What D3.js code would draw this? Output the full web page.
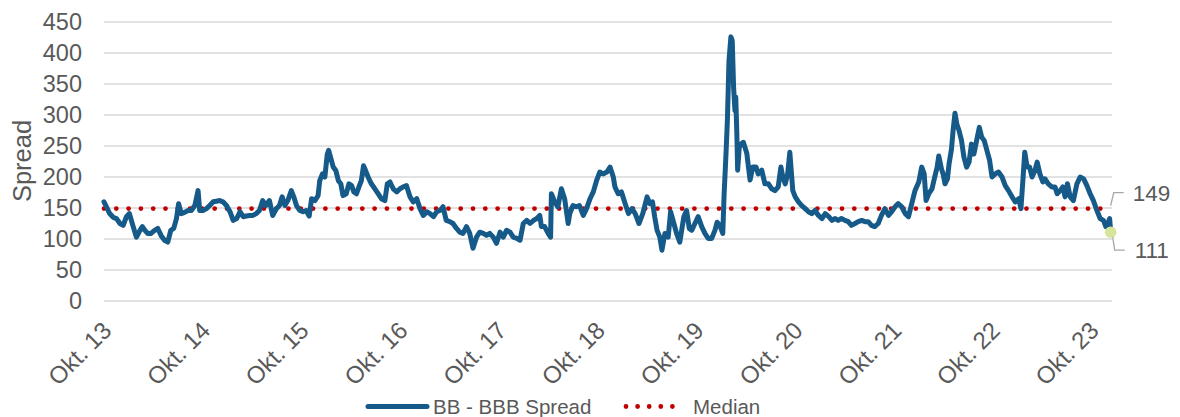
<!DOCTYPE html>
<html>
<head>
<meta charset="utf-8">
<script src="https://cdn.jsdelivr.net/npm/d3@7"></script>
<style>
  body { margin: 0; background: #fff; }
  text { font-family: "Liberation Sans", Arial, sans-serif; fill: #595959; }
</style>
</head>
<body>
<svg id="chart" width="1180" height="417"></svg>
<script>
// ---- data ----
const yTicks = [0, 50, 100, 150, 200, 250, 300, 350, 400, 450];
const xTickDates = ["2013-10-01", "2014-10-01", "2015-10-01", "2016-10-01", "2017-10-01",
                    "2018-10-01", "2019-10-01", "2020-10-01", "2021-10-01", "2022-10-01", "2023-10-01"];
const xTickLabels = ["Okt. 13", "Okt. 14", "Okt. 15", "Okt. 16", "Okt. 17", "Okt. 18",
                     "Okt. 19", "Okt. 20", "Okt. 21", "Okt. 22", "Okt. 23"];
const medianValue = 149;
const seriesNames = ["BB - BBB Spread", "Median"];

const spread2013 = [["2013-10-01",160],["2013-10-10",152],["2013-10-22",141],["2013-11-04",135],["2013-11-16",133],["2013-11-29",125],["2013-12-11",122],["2013-12-23",136]];
const spread2014 = [["2014-01-03",141],["2014-01-17",120],["2014-01-29",103],["2014-02-11",114],["2014-02-20",120],["2014-03-01",114],["2014-03-12",109],["2014-03-24",109],["2014-04-06",114],["2014-04-18",117],["2014-05-01",105],["2014-05-13",98],["2014-05-25",95],["2014-06-05",114],["2014-06-16",117],["2014-06-26",133],["2014-07-04",157],["2014-07-14",141],["2014-07-26",143],["2014-08-08",146],["2014-08-20",146],["2014-09-02",154],["2014-09-14",178],["2014-09-20",146],["2014-10-02",146],["2014-10-15",149],["2014-10-27",154],["2014-11-09",160],["2014-11-21",161],["2014-12-03",162],["2014-12-15",160],["2014-12-28",154]];
const spread2015 = [["2015-01-10",144],["2015-01-22",130],["2015-02-04",133],["2015-02-16",144],["2015-02-28",136],["2015-03-11",137],["2015-03-23",138],["2015-04-05",138],["2015-04-17",141],["2015-04-29",146],["2015-05-11",162],["2015-05-23",154],["2015-06-05",162],["2015-06-17",138],["2015-07-01",149],["2015-07-12",154],["2015-07-22",168],["2015-08-01",154],["2015-08-12",162],["2015-08-25",178],["2015-09-03",168],["2015-09-13",154],["2015-09-25",146],["2015-10-07",144],["2015-10-19",146],["2015-10-30",137],["2015-11-08",165],["2015-11-20",162],["2015-12-02",170],["2015-12-08",194],["2015-12-18",205],["2015-12-27",200]];
const spread2016 = [["2016-01-05",237],["2016-01-10",243],["2016-01-17",232],["2016-01-27",216],["2016-02-06",210],["2016-02-15",194],["2016-02-24",189],["2016-03-03",170],["2016-03-15",173],["2016-03-25",189],["2016-04-04",186],["2016-04-12",176],["2016-04-22",173],["2016-05-01",184],["2016-05-10",194],["2016-05-18",218],["2016-05-26",210],["2016-06-04",200],["2016-06-16",189],["2016-06-29",181],["2016-07-11",173],["2016-07-23",165],["2016-08-05",162],["2016-08-14",189],["2016-08-24",192],["2016-09-05",181],["2016-09-18",176],["2016-09-30",181],["2016-10-12",184],["2016-10-24",186],["2016-11-06",168],["2016-11-18",160],["2016-12-01",165],["2016-12-13",149],["2016-12-25",138]];
const spread2017 = [["2017-01-07",144],["2017-01-19",141],["2017-02-01",136],["2017-02-13",144],["2017-02-25",146],["2017-03-08",152],["2017-03-20",130],["2017-04-02",128],["2017-04-14",125],["2017-04-27",117],["2017-05-09",111],["2017-05-21",109],["2017-06-03",120],["2017-06-15",109],["2017-06-27",85],["2017-07-10",103],["2017-07-22",111],["2017-08-04",109],["2017-08-16",106],["2017-08-28",109],["2017-09-10",103],["2017-09-22",93],["2017-10-05",111],["2017-10-17",103],["2017-10-29",114],["2017-11-11",111],["2017-11-23",103],["2017-12-06",101],["2017-12-18",98],["2017-12-30",125]];
const spread2018 = [["2018-01-12",130],["2018-01-24",125],["2018-02-06",130],["2018-02-18",133],["2018-03-01",138],["2018-03-07",120],["2018-03-19",120],["2018-04-01",109],["2018-04-10",103],["2018-04-13",173],["2018-04-25",160],["2018-05-07",152],["2018-05-20",181],["2018-06-01",165],["2018-06-14",125],["2018-06-20",141],["2018-07-02",154],["2018-07-14",152],["2018-07-26",154],["2018-08-09",138],["2018-08-21",149],["2018-09-03",165],["2018-09-15",176],["2018-09-27",194],["2018-10-09",208],["2018-10-21",205],["2018-11-04",208],["2018-11-16",216],["2018-11-28",200],["2018-12-04",184],["2018-12-16",173],["2018-12-28",176]];
const spread2019 = [["2019-01-11",157],["2019-01-23",141],["2019-02-05",149],["2019-02-17",141],["2019-03-03",125],["2019-03-17",141],["2019-04-02",168],["2019-04-12",157],["2019-04-22",160],["2019-04-30",136],["2019-05-09",114],["2019-05-19",103],["2019-05-27",82],["2019-06-07",109],["2019-06-19",103],["2019-06-28",144],["2019-07-07",130],["2019-07-20",109],["2019-08-01",95],["2019-08-16",136],["2019-08-26",146],["2019-09-05",117],["2019-09-14",114],["2019-09-26",125],["2019-10-08",136],["2019-10-21",120],["2019-11-02",109],["2019-11-14",101],["2019-11-27",101],["2019-12-09",114],["2019-12-17",127],["2019-12-27",122]];
const spread2020 = [["2020-01-07",109],["2020-01-12",173],["2020-01-19",238],["2020-01-24",291],["2020-01-30",388],["2020-02-06",426],["2020-02-11",420],["2020-02-16",345],["2020-02-21",307],["2020-02-24",329],["2020-02-28",270],["2020-03-02",211],["2020-03-08",248],["2020-03-17",254],["2020-03-23",256],["2020-03-29",248],["2020-04-05",238],["2020-04-11",216],["2020-04-17",195],["2020-04-27",216],["2020-05-09",216],["2020-05-17",205],["2020-05-30",211],["2020-06-11",189],["2020-06-24",189],["2020-07-06",181],["2020-07-18",178],["2020-07-30",184],["2020-08-09",216],["2020-08-16",200],["2020-08-25",189],["2020-09-03",205],["2020-09-11",240],["2020-09-22",178],["2020-10-01",168],["2020-10-13",160],["2020-10-25",154],["2020-11-07",149],["2020-11-19",144],["2020-12-01",141],["2020-12-13",146],["2020-12-26",138]];
const spread2021 = [["2021-01-08",133],["2021-01-20",141],["2021-02-02",136],["2021-02-14",130],["2021-02-26",133],["2021-03-09",130],["2021-03-21",133],["2021-04-03",130],["2021-04-15",128],["2021-04-27",122],["2021-05-10",125],["2021-05-22",128],["2021-06-04",130],["2021-06-16",128],["2021-06-28",128],["2021-07-10",122],["2021-07-22",120],["2021-08-04",125],["2021-08-16",138],["2021-08-29",149],["2021-09-11",138],["2021-09-23",144],["2021-10-05",152],["2021-10-17",157],["2021-10-30",152],["2021-11-12",141],["2021-11-24",136],["2021-12-06",157],["2021-12-18",178]];
const spread2022 = [["2022-01-01",192],["2022-01-12",216],["2022-01-21",205],["2022-01-28",162],["2022-02-07",173],["2022-02-19",181],["2022-03-01",200],["2022-03-10",216],["2022-03-16",234],["2022-03-26",213],["2022-04-01",205],["2022-04-08",189],["2022-04-17",197],["2022-04-23",221],["2022-05-02",245],["2022-05-08",275],["2022-05-15",303],["2022-05-22",285],["2022-05-30",275],["2022-06-08",259],["2022-06-17",232],["2022-06-27",216],["2022-07-06",224],["2022-07-15",253],["2022-07-24",237],["2022-08-03",259],["2022-08-13",280],["2022-08-22",264],["2022-08-31",259],["2022-09-10",243],["2022-09-20",227],["2022-09-29",200],["2022-10-11",205],["2022-10-23",208],["2022-11-05",200],["2022-11-17",186],["2022-11-29",178],["2022-12-12",168],["2022-12-24",160]];
const spread2023 = [["2023-01-06",165],["2023-01-14",149],["2023-01-22",200],["2023-01-28",240],["2023-02-06",216],["2023-02-15",216],["2023-02-24",200],["2023-03-07",211],["2023-03-15",224],["2023-03-25",205],["2023-04-05",192],["2023-04-13",197],["2023-04-25",189],["2023-05-08",184],["2023-05-20",184],["2023-05-28",173],["2023-06-08",178],["2023-06-18",184],["2023-06-26",168],["2023-07-05",189],["2023-07-15",168],["2023-07-27",162],["2023-08-09",189],["2023-08-21",200],["2023-09-03",197],["2023-09-15",186],["2023-09-27",173],["2023-10-09",162],["2023-10-22",146],["2023-11-03",133],["2023-11-15",130],["2023-11-24",120],["2023-12-04",128],["2023-12-08",133],["2023-12-12",111]];

// ---- setup ----
const parseDate = d3.timeParse("%Y-%m-%d");
const spread = [].concat(spread2013, spread2014, spread2015, spread2016, spread2017, spread2018,
                         spread2019, spread2020, spread2021, spread2022, spread2023)
    .map(d => ({date: parseDate(d[0]), value: d[1]}));

const first = spread[0];
const last = spread[spread.length - 1];

const svg = d3.select('#chart');
const blue = '#165a8a';
const red = '#c00000';

let x = d3.scaleTime()
    .domain([first.date, last.date])
    .range([104, 1110.7]);

let y = d3.scaleLinear()
    .domain([0, 450])
    .range([301, 22]);

// gridlines
svg.append('g')
    .selectAll('line')
    .data(yTicks)
    .enter().append('line')
    .attr('x1', 104)
    .attr('x2', 1112)
    .attr('y1', d => y(d))
    .attr('y2', d => y(d))
    .attr('stroke', '#d9d9d9')
    .attr('stroke-width', 1.3);

// y labels
svg.append('g')
    .selectAll('text')
    .data(yTicks)
    .enter().append('text')
    .attr('x', 82)
    .attr('y', d => y(d))
    .attr('dy', '0.36em')
    .attr('text-anchor', 'end')
    .style('font-size', '23.5px')
    .text(d => d);

svg.append('text')
    .attr('transform', 'translate(31,161) rotate(-90)')
    .attr('text-anchor', 'middle')
    .style('font-size', '25.5px')
    .text('Spread');

// x labels
svg.append('g')
    .selectAll('text')
    .data(xTickDates)
    .enter().append('text')
    .attr('transform', d => `translate(${x(parseDate(d)) + 3},${326}) rotate(-45)`)
    .attr('text-anchor', 'end')
    .attr('dy', '0.35em')
    .style('font-size', '24px')
    .text((d, i) => xTickLabels[i]);

// median
svg.append('line')
    .attr('x1', x(first.date))
    .attr('x2', x(last.date))
    .attr('y1', y(medianValue))
    .attr('y2', y(medianValue))
    .attr('stroke', red)
    .attr('stroke-width', 4.8)
    .attr('stroke-linecap', 'round')
    .attr('stroke-dasharray', '0 12.3');

// spread line
let line = d3.line()
    .x(d => x(d.date))
    .y(d => y(d.value));

svg.append('path')
    .datum(spread)
    .attr('d', line)
    .attr('fill', 'none')
    .attr('stroke', blue)
    .attr('stroke-width', 5)
    .attr('stroke-linejoin', 'round')
    .attr('stroke-linecap', 'round');

// last point marker
svg.append('circle')
    .attr('cx', x(last.date))
    .attr('cy', y(last.value))
    .attr('r', 5.8)
    .attr('fill', '#d5e69c');

// callouts
let xe = x(last.date);
let ym = y(medianValue);
let yl = y(last.value);

svg.append('polyline')
    .attr('points', `${xe},${ym - 3} ${xe + 3},${ym - 16} ${xe + 13},${ym - 16}`)
    .attr('fill', 'none')
    .attr('stroke', '#a6a6a6')
    .attr('stroke-width', 1.3);

svg.append('text')
    .attr('x', xe + 22)
    .attr('y', ym - 16)
    .attr('dy', '0.36em')
    .style('font-size', '22.5px')
    .text(medianValue);

svg.append('polyline')
    .attr('points', `${xe + 2},${yl + 5} ${xe + 4},${yl + 18} ${xe + 14},${yl + 18}`)
    .attr('fill', 'none')
    .attr('stroke', '#a6a6a6')
    .attr('stroke-width', 1.3);

svg.append('text')
    .attr('x', xe + 24)
    .attr('y', yl + 18)
    .attr('dy', '0.36em')
    .style('font-size', '22.5px')
    .text(last.value);

// legend
let legend = svg.append('g');

legend.append('line')
    .attr('x1', 368).attr('x2', 427)
    .attr('y1', 406.5).attr('y2', 406.5)
    .attr('stroke', blue)
    .attr('stroke-width', 5)
    .attr('stroke-linecap', 'round');

legend.append('text')
    .attr('x', 433)
    .attr('y', 414)
    .style('font-size', '20.5px')
    .text(seriesNames[0]);

legend.append('line')
    .attr('x1', 626).attr('x2', 684)
    .attr('y1', 406.5).attr('y2', 406.5)
    .attr('stroke', red)
    .attr('stroke-width', 4.8)
    .attr('stroke-linecap', 'round')
    .attr('stroke-dasharray', '0 11.6');

legend.append('text')
    .attr('x', 693)
    .attr('y', 414)
    .style('font-size', '20.5px')
    .text(seriesNames[1]);
</script>
</body>
</html>
